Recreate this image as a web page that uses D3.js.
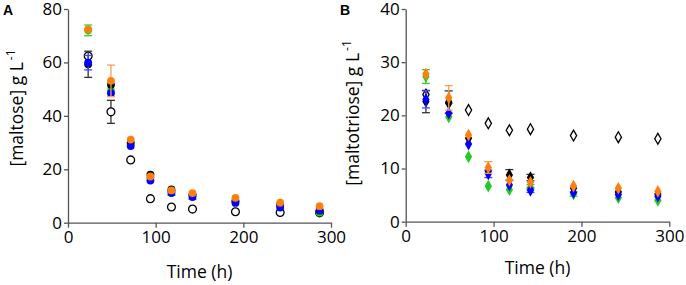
<!DOCTYPE html>
<html>
<head>
<meta charset="utf-8">
<script src="https://cdn.jsdelivr.net/npm/d3@7"></script>
<style>
  body { margin: 0; background: #fff; }
  svg { display: block; font-family: "Open Sans", sans-serif; }
  .axis path, .axis line { stroke: #555; stroke-width: 1.3; }
  .axis text { font-size: 17px; fill: #000; font-family: "Open Sans", sans-serif; }
</style>
</head>
<body>
<div id="chart"></div>
<script>
// sampling times (h)
const times = [23, 49, 71.5, 94, 118, 142, 191, 242, 287];

// Panel A: maltose (g/L)
const maltoseBlack  = [59.3, 51.6, 30.0, 18.0, 12.5, 10.5, 8.0, 6.5, 4.5];
const maltoseBlue   = [59.9, 48.5, 28.7, 15.8, 11.1, 9.6, 7.4, 5.7, 4.7];
const maltoseGreen  = [72.0, 49.4, 29.5, 17.0, 11.8, 10.3, 8.3, 6.8, 3.8];
const maltoseOrange = [72.4, 53.1, 31.1, 17.3, 12.1, 11.1, 9.3, 7.5, 6.2];
const maltoseOpen   = [62.4, 41.5, 23.5, 9.0, 5.9, 5.1, 4.1, 3.8, 3.7];
const maltoseBlackErr  = [4.9, 0, 0, 0, 0, 0, 0, 0, 0];
const maltoseBlueErr   = [2.7, 0, 0, 0, 0.8, 0.8, 0, 0, 0];
const maltoseGreenErr  = [2.0, 0, 0, 0, 0, 0, 0, 0, 0];
const maltoseOrangeErr = [0, 5.9, 0, 0, 0, 0, 0, 0, 0];
const maltoseOpenErr   = [0, 4.3, 0, 0, 0, 0, 0, 0, 0];

// Panel B: maltotriose (g/L)
const triBlack  = [22.6, 22.5, 15.7, 9.5, 8.8, 8.3, 6.3, 5.6, 5.2];
const triBlue   = [23.0, 20.4, 14.6, 9.0, 6.9, 5.9, 5.5, 5.1, 4.8];
const triGreen  = [27.3, 19.7, 12.2, 6.7, 6.0, 6.5, 5.2, 4.5, 4.0];
const triOrange = [27.8, 23.3, 16.3, 10.2, 7.8, 7.4, 6.7, 6.3, 5.7];
const triOpen   = [23.9, 22.3, 21.0, 18.5, 17.2, 17.4, 16.2, 15.9, 15.6];
const triBlackErr  = [2.1, 2.1, 0, 0, 1.0, 0.6, 0, 0, 0];
const triBlueErr   = [1.6, 0, 0, 0.7, 0, 0.4, 0, 0, 0];
const triGreenErr  = [1.3, 0, 0, 0, 0, 0.5, 0.4, 0, 0];
const triOrangeErr = [0, 2.3, 0, 1.1, 0, 0, 0, 0, 0];
const triOpenErr   = [0, 0, 0, 0, 0, 0, 0, 0, 0];

const xTicks = [0, 100, 200, 300];

const W = 686, H = 285;
const svg = d3.select("#chart").append("svg")
    .attr("width", W)
    .attr("height", H);

function panel(opts) {
    const x = d3.scaleLinear().domain([0, 300]).range([opts.left, opts.right]);
    const y = d3.scaleLinear().domain([0, opts.yMax]).range([opts.bottom, opts.top]);
    const g = svg.append("g");

    g.append("g")
        .attr("class", "axis")
        .attr("transform", `translate(0,${opts.bottom})`)
        .call(d3.axisBottom(x).tickValues(xTicks).tickSize(5).tickSizeOuter(0).tickPadding(3));

    g.append("g")
        .attr("class", "axis")
        .attr("transform", `translate(${opts.left},0)`)
        .call(d3.axisLeft(y).tickValues(opts.yTicks).tickSize(4).tickSizeOuter(0).tickPadding(2));

    // panel letter
    g.append("text")
        .attr("x", opts.letterX)
        .attr("y", 15)
        .attr("font-size", 14)
        .attr("font-weight", "bold")
        .attr("font-family", "Liberation Sans, Arial, sans-serif")
        .text(opts.letter);

    // axis titles
    g.append("text")
        .attr("x", (opts.left + opts.right) / 2)
        .attr("y", opts.xTitleY)
        .attr("text-anchor", "middle")
        .attr("font-size", 17.5)
        .text("Time (h)");

    const yt = g.append("text")
        .attr("transform", `translate(${opts.yTitleX},${opts.yTitleY}) rotate(-90)`)
        .attr("text-anchor", "middle")
        .attr("font-size", 17.5);
    yt.append("tspan").text(opts.yTitle + " g L");
    yt.append("tspan").attr("dx", 2).attr("dy", -8).attr("font-size", 12).text("-1");

    // draw series: order matters for overlap
    opts.series.forEach(s => {
        const pts = times.map((t, i) => ({ t, v: s.values[i], e: s.err[i] }));
        const eg = g.append("g").attr("stroke", s.errColor).attr("stroke-width", 1.3).attr("fill", "none");
        pts.filter(d => d.e > 0).forEach(d => {
            const cx = x(d.t);
            eg.append("line").attr("x1", cx).attr("x2", cx).attr("y1", y(d.v - d.e)).attr("y2", y(d.v + d.e));
            eg.append("line").attr("x1", cx - 4).attr("x2", cx + 4).attr("y1", y(d.v + d.e)).attr("y2", y(d.v + d.e));
            eg.append("line").attr("x1", cx - 4).attr("x2", cx + 4).attr("y1", y(d.v - d.e)).attr("y2", y(d.v - d.e));
        });
        const sym = d3.symbol().type(opts.shape).size(opts.shape === d3.symbolDiamond ? (s.open ? 34 : 46) : 48);
        g.append("g").selectAll("path")
            .data(pts)
            .join("path")
            .attr("transform", d => `translate(${x(d.t)},${y(d.v)})`)
            .attr("d", sym)
            .attr("fill", s.open ? "#fff" : s.color)
            .attr("stroke", s.open ? "#000" : "none")
            .attr("stroke-width", 1.3);
    });
}

panel({
    left: 68, right: 331, top: 9, bottom: 222.7, yMax: 80,
    yTicks: [0, 20, 40, 60, 80],
    letter: "A", letterX: 3,
    xTitleY: 278, yTitleX: 23, yTitleY: 108,
    yTitle: "[maltose]",
    shape: d3.symbolCircle,
    series: [
        { values: maltoseOpen, err: maltoseOpenErr, color: "#000", errColor: "#333", open: true },
        { values: maltoseGreen, err: maltoseGreenErr, color: "#22cc22", errColor: "#33cc33" },
        { values: maltoseBlack, err: maltoseBlackErr, color: "#000", errColor: "#333" },
        { values: maltoseBlue, err: maltoseBlueErr, color: "#0000ff", errColor: "#4444ff" },
        { values: maltoseOrange, err: maltoseOrangeErr, color: "#ff7f0e", errColor: "#f5a05a" }
    ]
});

panel({
    left: 405.7, right: 669.3, top: 9, bottom: 221.7, yMax: 40,
    yTicks: [0, 10, 20, 30, 40],
    letter: "B", letterX: 340,
    xTitleY: 274, yTitleX: 359, yTitleY: 113,
    yTitle: "[maltotriose]",
    shape: d3.symbolDiamond,
    series: [
        { values: triOpen, err: triOpenErr, color: "#000", errColor: "#333", open: true },
        { values: triBlack, err: triBlackErr, color: "#000", errColor: "#333" },
        { values: triGreen, err: triGreenErr, color: "#22cc22", errColor: "#33cc33" },
        { values: triBlue, err: triBlueErr, color: "#0000ff", errColor: "#4444ff" },
        { values: triOrange, err: triOrangeErr, color: "#ff7f0e", errColor: "#f5a05a" }
    ]
});
</script>
</body>
</html>
